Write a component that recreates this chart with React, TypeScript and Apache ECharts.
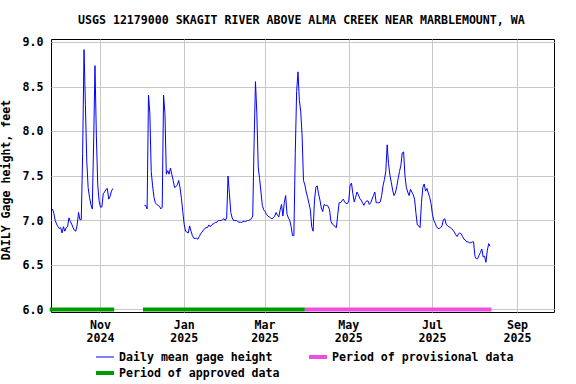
import React, { useEffect, useRef } from 'react';
import * as echarts from 'echarts';

const TITLE = 'USGS 12179000 SKAGIT RIVER ABOVE ALMA CREEK NEAR MARBLEMOUNT, WA';
const Y_AXIS_NAME = 'DAILY Gage height, feet';
const GAGE_NAME = 'Daily mean gage height';
const APPROVED_NAME = 'Period of approved data';
const PROVISIONAL_NAME = 'Period of provisional data';

// Daily mean gage height (feet), one array per month; first date given with each array
const sep2024 = [7.13, 7.08, 7.0, 6.96]; // from 2024-09-27
const oct2024 = [
  6.93, 6.91, 6.92, 6.86, 6.93, 6.88, 6.92, 6.93, 7.03, 6.99,
  6.96, 6.92, 6.89, 6.88, 6.95, 7.09, 7.01, 7.01, 7.75, 8.92,
  8.3, 7.67, 7.37, 7.26, 7.18, 7.13, 7.86, 8.74, 7.95, 7.4, 7.22,
];
const nov2024 = [7.15, 7.15, 7.3, 7.32, 7.35, 7.36, 7.24, 7.27, 7.33, 7.36]; // to 2024-11-10
const dec2024 = [
  7.17, 7.17, 7.13, 8.41, 8.2, 7.55, 7.39, 7.26, 7.2, 7.18,
  7.17, 7.16, 7.13, 7.15, 8.41, 8.2, 7.52, 7.56, 7.52, 7.59,
  7.52, 7.45, 7.37, 7.38, 7.4, 7.45, 7.37, 7.25, 7.1,
]; // from 2024-12-03
const jan2025 = [
  6.96, 6.88, 6.87, 6.86, 6.94, 6.88, 6.83, 6.8, 6.8, 6.8,
  6.79, 6.82, 6.85, 6.87, 6.89, 6.91, 6.92, 6.92, 6.95, 6.93,
  6.95, 6.96, 6.97, 6.98, 6.98, 7.0, 7.0, 7.0, 7.01, 7.02, 7.0,
];
const feb2025 = [
  7.03, 7.5, 7.3, 7.09, 7.03, 7.0, 7.0, 7.0, 6.99, 6.98,
  6.98, 6.98, 6.99, 6.99, 6.99, 7.0, 7.0, 7.01, 7.02, 7.05,
  7.88, 8.56, 8.2, 7.6, 7.47, 7.32, 7.17, 7.12,
];
const mar2025 = [
  7.1, 7.07, 7.05, 7.04, 7.03, 7.02, 7.03, 7.05, 7.09, 7.06,
  7.04, 7.12, 7.18, 7.05, 7.2, 7.28, 7.07, 7.03, 7.0, 6.93,
  6.83, 6.83, 7.75, 8.45, 8.67, 8.35, 8.22, 7.95, 7.45, 7.4, 7.32,
];
const apr2025 = [
  7.26, 7.19, 7.12, 6.93, 6.88, 7.22, 7.37, 7.39, 7.3, 7.23,
  7.14, 7.1, 7.18, 7.17, 7.17, 7.16, 7.12, 6.99, 6.96, 6.95,
  6.93, 6.92, 7.07, 7.2, 7.2, 7.22, 7.24, 7.21, 7.19, 7.19,
];
const may2025 = [
  7.22, 7.4, 7.42, 7.3, 7.21, 7.26, 7.32, 7.29, 7.25, 7.23,
  7.2, 7.17, 7.2, 7.22, 7.22, 7.18, 7.2, 7.24, 7.28, 7.32,
  7.2, 7.2, 7.2, 7.21, 7.28, 7.39, 7.46, 7.55, 7.85, 7.64, 7.51,
];
const jun2025 = [
  7.43, 7.34, 7.28, 7.31, 7.38, 7.47, 7.55, 7.62, 7.76, 7.77,
  7.5, 7.37, 7.32, 7.28, 7.35, 7.32, 7.29, 7.24, 7.08, 6.95,
  6.94, 6.92, 7.2, 7.37, 7.41, 7.33, 7.36, 7.31, 7.26, 7.19,
];
const jul2025 = [
  7.07, 7.0, 6.97, 6.93, 6.91, 6.91, 6.92, 6.94, 7.01, 7.02,
  6.96, 6.94, 6.93, 6.92, 6.91, 6.89, 6.87, 6.84, 6.82, 6.85,
  6.86, 6.85, 6.82, 6.79, 6.78, 6.76, 6.76, 6.75, 6.75, 6.76, 6.76,
];
const aug2025 = [6.6, 6.57, 6.57, 6.61, 6.64, 6.68, 6.59, 6.6, 6.53, 6.66, 6.74, 6.71];

const gageMonths: [string, number[]][] = [
  ['2024-09-27', sep2024],
  ['2024-10-01', oct2024],
  ['2024-11-01', nov2024],
  ['2024-12-03', dec2024],
  ['2025-01-01', jan2025],
  ['2025-02-01', feb2025],
  ['2025-03-01', mar2025],
  ['2025-04-01', apr2025],
  ['2025-05-01', may2025],
  ['2025-06-01', jun2025],
  ['2025-07-01', jul2025],
  ['2025-08-01', aug2025],
];
const missingDates = ['2024-11-20'];

const approvedPeriods: [string, string][] = [
  ['2024-09-25', '2024-11-11'],
  ['2024-12-02', '2025-03-30'],
];
const provisionalPeriods: [string, string][] = [['2025-03-30', '2025-08-13']];
const PERIOD_LEVEL = 6.0;

const xTickDates = ['2024-11-01', '2025-01-01', '2025-03-01', '2025-05-01', '2025-07-01', '2025-09-01'];
const yTickValues = [6.0, 6.5, 7.0, 7.5, 8.0, 8.5, 9.0];
const MONTHS = ['Jan', 'Feb', 'Mar', 'Apr', 'May', 'Jun', 'Jul', 'Aug', 'Sep', 'Oct', 'Nov', 'Dec'];

const DAY = 86400000;
const ts = (s: string) => {
  const [y, m, d] = s.split('-').map(Number);
  return Date.UTC(y, m - 1, d);
};

const gageData: [number, number | null][] = [];
gageMonths.forEach(([start, vals]) => {
  vals.forEach((v, i) => gageData.push([ts(start) + i * DAY, v]));
});
missingDates.forEach((d) => gageData.push([ts(d), null]));
gageData.sort((a, b) => a[0] - b[0]);

const periodData = (periods: [string, string][]) => {
  const out: [number, number | null][] = [];
  periods.forEach(([a, b], i) => {
    if (i > 0) out.push([ts(a) - DAY / 2, null]);
    out.push([ts(a), PERIOD_LEVEL], [ts(b), PERIOD_LEVEL]);
  });
  return out;
};

const FONT = 'DejaVu Sans Mono';
const textBase = { fontFamily: FONT, fontWeight: 'bold' as const, fontSize: 11.6, color: '#000' };
const GRID_COLOR = '#c8c8c8';

const option: any = {
  animation: false,
  backgroundColor: '#ffffff',
  title: {
    text: TITLE,
    left: 78,
    top: 14,
    padding: 0,
    textStyle: { ...textBase },
  },
  grid: {
    show: true,
    left: 51.5,
    top: 39.5,
    width: 503,
    height: 273,
    borderColor: '#000',
    borderWidth: 1,
    backgroundColor: 'transparent',
    containLabel: false,
    outerBoundsMode: 'none',
  },
  xAxis: {
    type: 'value',
    min: Date.UTC(2024, 8, 26, 7),
    max: Date.UTC(2025, 8, 28, 0),
    axisLine: { show: false },
    axisTick: { show: false },
    splitLine: { show: false },
    axisLabel: {
      ...textBase,
      customValues: xTickDates.map(ts),
      formatter: (v: number) => {
        const d = new Date(v);
        return MONTHS[d.getUTCMonth()] + '\n' + d.getUTCFullYear();
      },
      lineHeight: 13,
      margin: 6,
      hideOverlap: false,
    },
  },
  yAxis: {
    type: 'value',
    min: 5.9663,
    max: 9.0337,
    name: Y_AXIS_NAME,
    nameLocation: 'middle',
    nameRotate: 90,
    nameGap: 24,
    nameTextStyle: { ...textBase, padding: [0, 8, 0, 0] },
    axisLine: { show: false },
    axisTick: { show: false },
    splitLine: { show: false },
    axisLabel: {
      ...textBase,
      customValues: yTickValues,
      formatter: (v: number) => v.toFixed(1),
      margin: 8,
    },
  },
  legend: [
    {
      data: [GAGE_NAME],
      left: 96,
      top: 350,
      padding: 0,
      icon: 'rect',
      itemWidth: 18,
      itemHeight: 1,
      textStyle: { ...textBase, lineHeight: 14 },
      selectedMode: false,
    },
    {
      data: [APPROVED_NAME],
      left: 96,
      top: 366,
      padding: 0,
      icon: 'rect',
      itemWidth: 18,
      itemHeight: 4,
      textStyle: { ...textBase, lineHeight: 14 },
      selectedMode: false,
    },
    {
      data: [PROVISIONAL_NAME],
      left: 309,
      top: 350,
      padding: 0,
      icon: 'rect',
      itemWidth: 18,
      itemHeight: 4,
      textStyle: { ...textBase, lineHeight: 14 },
      selectedMode: false,
    },
  ],
  series: [
    {
      name: APPROVED_NAME,
      type: 'line',
      data: periodData(approvedPeriods),
      showSymbol: false,
      clip: false,
      z: 3,
      itemStyle: { color: '#009a00' },
      lineStyle: { color: '#009a00', width: 4, cap: 'butt' },
      emphasis: { disabled: true },
      silent: true,
      markLine: {
        silent: true,
        z: 1,
        symbol: ['none', 'none'],
        label: { show: false },
        emphasis: { disabled: true },
        lineStyle: { color: GRID_COLOR, width: 1, type: 'solid' },
        data: [
          ...xTickDates.map((d) => ({ xAxis: ts(d) })),
          ...yTickValues.map((v) => ({ yAxis: v })),
        ],
      },
    },
    {
      name: PROVISIONAL_NAME,
      type: 'line',
      data: periodData(provisionalPeriods),
      showSymbol: false,
      clip: false,
      z: 3,
      itemStyle: { color: '#ee4ee0' },
      lineStyle: { color: '#ee4ee0', width: 4, cap: 'butt' },
      emphasis: { disabled: true },
      silent: true,
    },
    {
      name: GAGE_NAME,
      type: 'line',
      data: gageData,
      showSymbol: false,
      connectNulls: false,
      z: 4,
      itemStyle: { color: '#0000ff' },
      lineStyle: { color: '#0000ff', width: 1 },
      emphasis: { disabled: true },
      silent: true,
    },
  ],
};

export default function App() {
  const ref = useRef<HTMLDivElement>(null);
  useEffect(() => {
    if (!ref.current) return;
    const chart = echarts.init(ref.current, null, { renderer: 'svg' });
    chart.setOption(option);
    return () => chart.dispose();
  }, []);
  return (
    <div
      ref={ref}
      style={{ position: 'fixed', left: 0, top: 0, width: 576, height: 384, background: '#fff' }}
    />
  );
}
